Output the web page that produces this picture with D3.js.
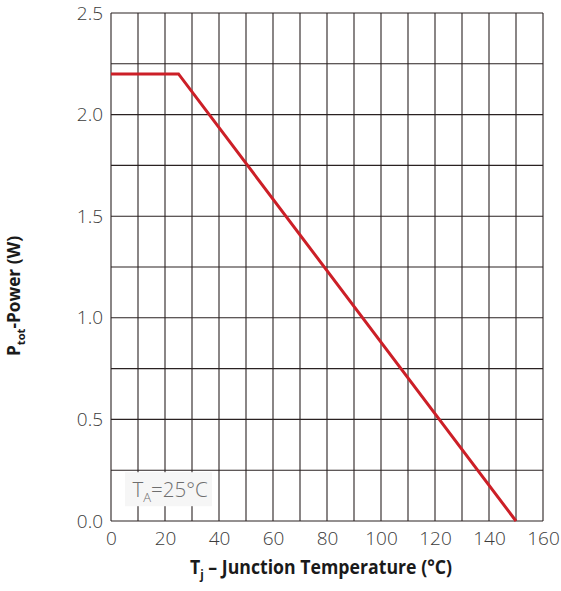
<!DOCTYPE html>
<html>
<head>
<meta charset="utf-8">
<script src="https://cdn.jsdelivr.net/npm/d3@7"></script>
<style>
  html, body { margin: 0; padding: 0; background: #fff; }
  svg { display: block; }
</style>
</head>
<body>
<svg id="chart" width="561" height="591"></svg>
<script>
// Power derating curve: total power vs junction temperature
const tempC = [0, 25, 150];
const powerW = [2.2, 2.2, 0];

const xTicks = [0, 20, 40, 60, 80, 100, 120, 140, 160];
const yTicks = [0.0, 0.5, 1.0, 1.5, 2.0, 2.5];
const xGrid = d3.range(0, 161, 10);
const yGrid = d3.range(0, 2.51, 0.25);

const margin = { left: 111, top: 13, right: 18, bottom: 70 };
const W = 561, H = 591;
const pw = W - margin.left - margin.right;
const ph = H - margin.top - margin.bottom;

const svg = d3.select("#chart");
const g = svg.append("g").attr("transform", `translate(${margin.left},${margin.top})`);

const x = d3.scaleLinear().domain([0, 160]).range([0, pw]);
const y = d3.scaleLinear().domain([0, 2.5]).range([ph, 0]);

const gridColor = "#2a2222";

// grid
g.append("g").selectAll("line").data(xGrid).join("line")
  .attr("x1", d => x(d)).attr("x2", d => x(d))
  .attr("y1", 0).attr("y2", ph)
  .attr("stroke", gridColor).attr("stroke-width", 1.1);
g.append("g").selectAll("line").data(yGrid).join("line")
  .attr("x1", 0).attr("x2", pw)
  .attr("y1", d => y(d)).attr("y2", d => y(d))
  .attr("stroke", gridColor).attr("stroke-width", 1.1);

// ambient temperature note box (covers grid)
const note = g.append("g");
note.append("rect")
  .attr("x", x(0) + 14).attr("y", y(0.25) + 2)
  .attr("width", 87).attr("height", 34)
  .attr("fill", "#f6f6f6");
const noteText = note.append("text")
  .attr("x", x(0) + 21.5).attr("y", y(0.25) + 26.5)
  .attr("font-family", "'Open Sans', sans-serif")
  .attr("font-weight", 300)
  .attr("font-size", 20.5)
  .attr("fill", "#6e6e6e");
noteText.append("tspan").text("T");
noteText.append("tspan").attr("font-size", 13).attr("dy", 5).text("A");
noteText.append("tspan").attr("dy", -5).text("=25°C");

// axes
const xAxis = d3.axisBottom(x).tickValues(xTicks).tickSize(0).tickPadding(11)
  .tickFormat(d3.format("d"));
const yAxis = d3.axisLeft(y).tickValues(yTicks).tickSize(0).tickPadding(8)
  .tickFormat(d3.format(".1f"));

const gx = g.append("g").attr("transform", `translate(0,${ph})`).call(xAxis);
const gy = g.append("g").call(yAxis);
[gx, gy].forEach(a => {
  a.select(".domain").remove();
  a.selectAll("text")
    .attr("font-family", "'Open Sans', sans-serif")
    .attr("font-weight", 300)
    .attr("font-size", 19)
    .attr("fill", "#3c3c3c");
});

// derating curve
const line = d3.line().x(d => x(d[0])).y(d => y(d[1]));
g.append("path")
  .datum(tempC.map((t, i) => [t, powerW[i]]))
  .attr("d", line)
  .attr("fill", "none")
  .attr("stroke", "#cc1f27")
  .attr("stroke-width", 3)
  .attr("stroke-linejoin", "miter");

// axis titles
const titleFont = "'Open Sans', sans-serif";
const xt = svg.append("text")
  .attr("x", 190).attr("y", 574)
  .attr("font-family", titleFont).attr("font-weight", 700)
  .attr("font-size", 20).attr("fill", "#1a1a1a")
  .attr("textLength", 262).attr("lengthAdjust", "spacingAndGlyphs");
xt.append("tspan").text("T");
xt.append("tspan").attr("font-size", 13).attr("dy", 5).text("j");
xt.append("tspan").attr("dy", -5).text(" – Junction Temperature (°C)");

const yt = svg.append("text")
  .attr("transform", "translate(20,356) rotate(-90)")
  .attr("font-family", titleFont).attr("font-weight", 700)
  .attr("font-size", 17).attr("fill", "#1a1a1a")
  .attr("textLength", 120).attr("lengthAdjust", "spacingAndGlyphs");
yt.append("tspan").text("P");
yt.append("tspan").attr("font-size", 11).attr("dy", 5).text("tot");
yt.append("tspan").attr("dy", -5).text("-Power (W)");
</script>
</body>
</html>
